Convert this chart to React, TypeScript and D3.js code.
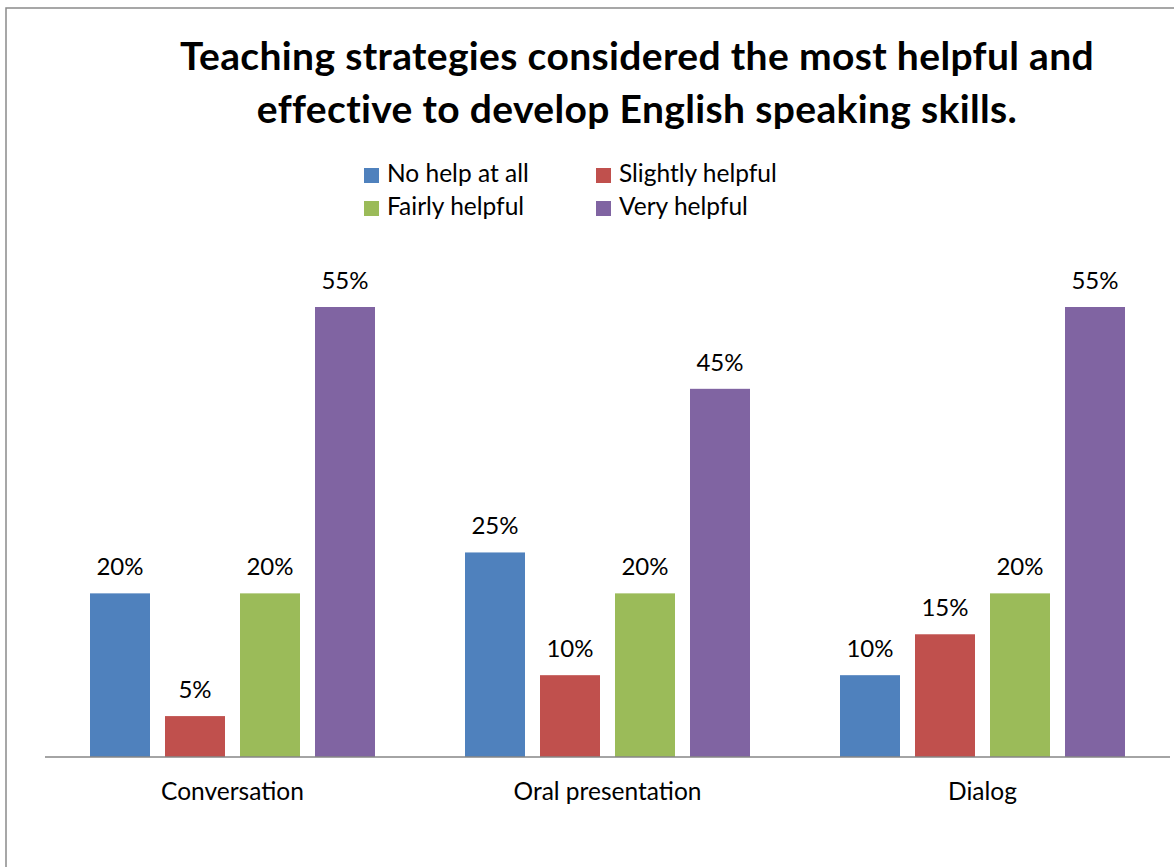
import { useEffect, useRef } from 'react';
import { select, scaleBand, scaleLinear } from 'd3';

const categories = ['Conversation', 'Oral presentation', 'Dialog'];
const seriesNames = ['No help at all', 'Slightly helpful', 'Fairly helpful', 'Very helpful'];
const seriesColors = ['#4F81BD', '#C0504D', '#9BBB59', '#8064A2'];
// percent values per series, in category order
const noHelp = [20, 25, 10];
const slightly = [5, 10, 15];
const fairly = [20, 20, 20];
const very = [55, 45, 55];
const titleLines = [
  'Teaching strategies considered the most helpful and',
  'effective to develop English speaking skills.',
];

const FONT = 'Lato, "Open Sans", sans-serif';

const render = (svgEl: SVGSVGElement) => {
  const svg = select(svgEl);
  svg.selectAll('*').remove();
  const series = [noHelp, slightly, fairly, very];

  // chart frame (cropped at right / bottom)
  svg
    .append('rect')
    .attr('x', 6)
    .attr('y', 8)
    .attr('width', 1300)
    .attr('height', 1000)
    .attr('fill', '#fff')
    .attr('stroke', '#8a8a8a')
    .attr('stroke-width', 1.5);

  // title
  svg
    .append('g')
    .selectAll('text')
    .data(titleLines)
    .enter()
    .append('text')
    .attr('x', 637)
    .attr('y', (d, i) => 70 + i * 53)
    .attr('text-anchor', 'middle')
    .attr('font-family', FONT)
    .attr('font-weight', 'bold')
    .attr('font-size', 39)
    .attr('letter-spacing', 0.35)
    .text((d) => d);

  // legend
  const legend = svg
    .append('g')
    .selectAll('g')
    .data(seriesNames)
    .enter()
    .append('g')
    .attr('transform', (d, i) => `translate(${364 + (i % 2) * 232},${168 + Math.floor(i / 2) * 33})`);
  legend
    .append('rect')
    .attr('width', 15)
    .attr('height', 15)
    .attr('fill', (d, i) => seriesColors[i]);
  legend
    .append('text')
    .attr('x', 23)
    .attr('y', 14)
    .attr('font-family', FONT)
    .attr('font-size', 24.5)
    .text((d) => d);

  // scales
  const x0 = scaleBand().domain(categories).range([45, 1170]);
  const x1 = scaleBand()
    .domain(seriesNames)
    .range([0, x0.bandwidth()])
    .paddingInner(0.2)
    .paddingOuter(0.6);
  const y = scaleLinear().domain([0, 55]).range([757, 307]);

  const groups = svg
    .append('g')
    .selectAll('g')
    .data(categories)
    .enter()
    .append('g')
    .attr('transform', (d) => `translate(${x0(d)},0)`);

  groups
    .selectAll('rect')
    .data((d, ci) => seriesNames.map((s, si) => ({ s, si, v: series[si][ci] })))
    .enter()
    .append('rect')
    .attr('x', (d) => x1(d.s))
    .attr('y', (d) => y(d.v))
    .attr('width', x1.bandwidth())
    .attr('height', (d) => y(0) - y(d.v))
    .attr('fill', (d) => seriesColors[d.si]);

  groups
    .selectAll('text')
    .data((d, ci) => seriesNames.map((s, si) => ({ s, si, v: series[si][ci] })))
    .enter()
    .append('text')
    .attr('x', (d) => x1(d.s) + x1.bandwidth() / 2)
    .attr('y', (d) => y(d.v) - 18)
    .attr('text-anchor', 'middle')
    .attr('font-family', FONT)
    .attr('font-size', 24)
    .text((d) => `${d.v}%`);

  // x axis line
  svg
    .append('line')
    .attr('x1', 45)
    .attr('x2', 1170)
    .attr('y1', y(0))
    .attr('y2', y(0))
    .attr('stroke', '#868686')
    .attr('stroke-width', 1.5);

  // category labels
  svg
    .append('g')
    .selectAll('text')
    .data(categories)
    .enter()
    .append('text')
    .attr('x', (d) => x0(d) + x0.bandwidth() / 2)
    .attr('y', 800)
    .attr('text-anchor', 'middle')
    .attr('font-family', FONT)
    .attr('font-size', 24.5)
    .text((d) => d);
};

export default function App() {
  const ref = useRef<SVGSVGElement>(null);
  useEffect(() => {
    if (ref.current) render(ref.current);
  }, []);
  return (
    <svg
      ref={ref}
      width={1174}
      height={867}
      style={{ position: 'absolute', left: 0, top: 0, display: 'block', background: '#fff' }}
    />
  );
}
